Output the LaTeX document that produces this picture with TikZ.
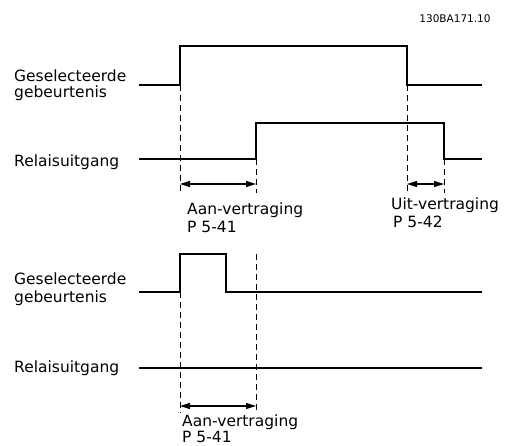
\documentclass[tikz,border=0pt]{standalone}
\usepackage{fontspec}
\setmainfont{DejaVu Sans}
\usetikzlibrary{arrows.meta}
\begin{document}
\begin{tikzpicture}[x=1pt,y=-1pt,
  sig/.style={line width=1.3pt},
  guide/.style={line width=1pt,dash pattern=on 6pt off 4pt},
  dim/.style={line width=1.3pt,{Triangle[length=10pt,width=6pt]}-{Triangle[length=10pt,width=6pt]}},
  lbl/.style={anchor=base west,inner sep=0pt,font=\fontsize{15.5}{17}\selectfont}]
\useasboundingbox (0,0) rectangle (506,446);
% code
\node[anchor=base,inner sep=0pt,font=\fontsize{10.5}{12}\selectfont] (code) at (455,23) {130BA171.10};
% ---------- top panel ----------
\node[lbl] (g1a) at (14,82) {Geselecteerde};
\node[lbl] (g1b) at (14,98) {gebeurtenis};
\node[lbl] (r1) at (14,167) {Relaisuitgang};
\coordinate (a0) at (139,85);
\coordinate (a1) at (180,85);
\coordinate (a2) at (180,46);
\coordinate (a3) at (407,46);
\coordinate (a4) at (407,85);
\coordinate (a5) at (482,85);
\draw[sig] (a0) -- (a1) -- (a2) -- (a3) -- (a4) -- (a5);
\coordinate (b0) at (139,159);
\coordinate (b1) at (256,159);
\coordinate (b2) at (256,123);
\coordinate (b3) at (444,123);
\coordinate (b4) at (444,159);
\coordinate (b5) at (482,159);
\draw[sig] (b0) -- (b1) -- (b2) -- (b3) -- (b4) -- (b5);
\coordinate (d1) at (180,193);
\coordinate (d2) at (256,193);
\coordinate (d3) at (407,193);
\coordinate (d4) at (444,193);
\draw[guide] (a1) -- (d1);
\draw[guide] (b1) -- (d2);
\draw[guide] (a4) -- (d3);
\draw[guide] (b4) -- (d4);
\coordinate (e1) at (180,184);
\coordinate (e2) at (256,184);
\coordinate (e3) at (407,184);
\coordinate (e4) at (444,184);
\draw[dim] (e1) -- (e2);
\draw[dim] (e3) -- (e4);
\node[lbl] (on1) at (187,215) {Aan-vertraging};
\node[lbl] (on1p) at (187,233) {P 5-41};
\node[lbl] (off1) at (391,210) {Uit-vertraging};
\node[lbl] (off1p) at (393,228) {P 5-42};
% ---------- bottom panel ----------
\node[lbl] (g2a) at (14,285) {Geselecteerde};
\node[lbl] (g2b) at (14,302) {gebeurtenis};
\node[lbl] (r2) at (14,372) {Relaisuitgang};
\coordinate (c0) at (139,292);
\coordinate (c1) at (180,292);
\coordinate (c2) at (180,254);
\coordinate (c3) at (226,254);
\coordinate (c4) at (226,292);
\coordinate (c5) at (482,292);
\draw[sig] (c0) -- (c1) -- (c2) -- (c3) -- (c4) -- (c5);
\coordinate (f0) at (139,368);
\coordinate (f1) at (482,368);
\draw[sig] (f0) -- (f1);
\coordinate (h1) at (180,413);
\coordinate (h2top) at (256,254);
\coordinate (h2) at (256,413);
\draw[guide] (c1) -- (h1);
\draw[guide] (h2top) -- (h2);
\coordinate (k1) at (180,406);
\coordinate (k2) at (256,406);
\draw[dim] (k1) -- (k2);
\node[lbl] (on2) at (182,426) {Aan-vertraging};
\node[lbl] (on2p) at (182,442.5) {P 5-41};
\end{tikzpicture}
\end{document}
